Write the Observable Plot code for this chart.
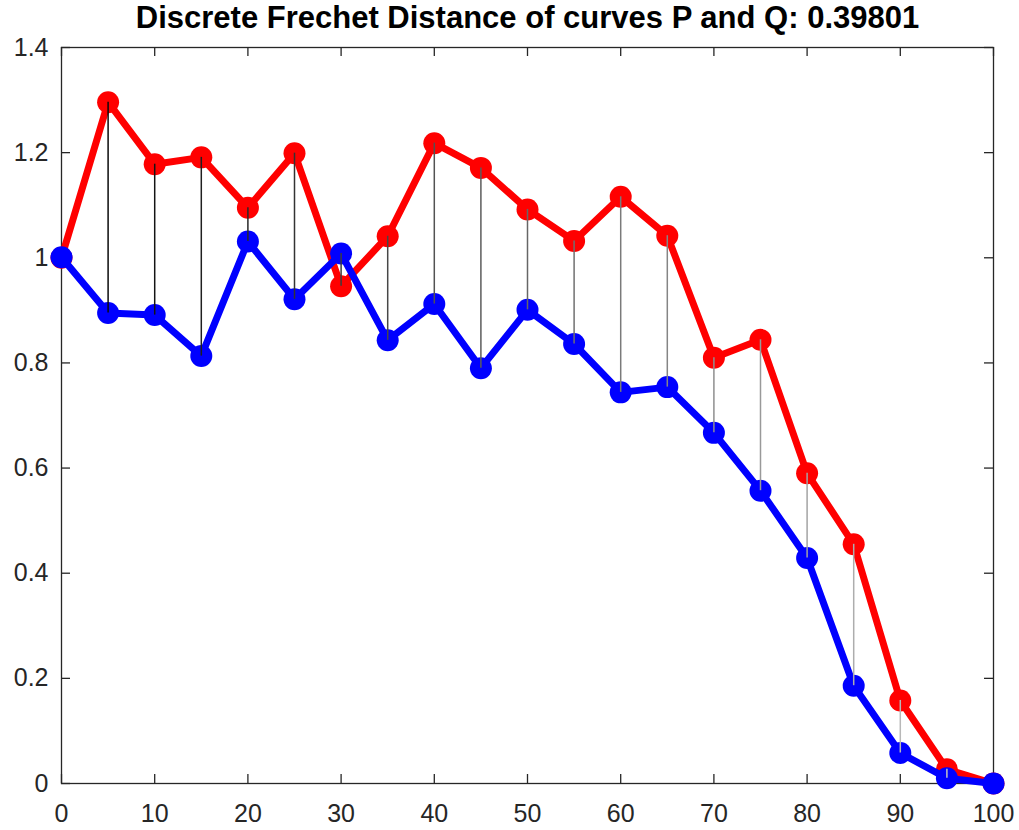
<!DOCTYPE html>
<html>
<head>
<meta charset="utf-8">
<script src="https://cdn.jsdelivr.net/npm/d3@7"></script>
<script src="https://cdn.jsdelivr.net/npm/@observablehq/plot@0.6"></script>
<style>
  html, body { margin: 0; padding: 0; background: #fff; }
  #chart svg { display: block; }
</style>
</head>
<body>
<div id="chart"></div>
<script>
const titleText = "Discrete Frechet Distance of curves P and Q: 0.39801";
const xValues = [0, 5, 10, 15, 20, 25, 30, 35, 40, 45, 50, 55, 60, 65, 70, 75, 80, 85, 90, 95, 100];
const pValues = [1.0, 1.296, 1.178, 1.191, 1.095, 1.199, 0.946, 1.041, 1.218, 1.171, 1.092, 1.032, 1.116, 1.042, 0.810, 0.844, 0.590, 0.455, 0.158, 0.027, 0];
const qValues = [1.001, 0.895, 0.891, 0.813, 1.031, 0.921, 1.008, 0.843, 0.912, 0.790, 0.901, 0.836, 0.744, 0.754, 0.667, 0.557, 0.429, 0.186, 0.058, 0.010, 0];
const xTicks = [0, 10, 20, 30, 40, 50, 60, 70, 80, 90, 100];
const yTicks = [0, 0.2, 0.4, 0.6, 0.8, 1.0, 1.2, 1.4];
const yTickLabels = ["0", "0.2", "0.4", "0.6", "0.8", "1", "1.2", "1.4"];

const W = 1019, H = 830;
const mL = 61, mR = 26, mT = 47, mB = 47;
const fw = W - mL - mR, fh = H - mT - mB;
const tickLen = 9;
const axisColor = "#262626";
const font = "'Liberation Sans', Arial, Helvetica, sans-serif";

const P = xValues.map((x, i) => ({x, y: pValues[i]}));
const Q = xValues.map((x, i) => ({x, y: qValues[i]}));
const n = xValues.length;
const links = xValues.map((x, i) => ({x, y1: pValues[i], y2: qValues[i], i}))
  .filter(d => d.i > 0 && d.i < n - 1);
const linkColor = d => {
  const g = Math.round(255 * Math.min(0.8, 0.04 * d.i));
  return `rgb(${g},${g},${g})`;
};

const chart = Plot.plot({
  width: W,
  height: H,
  marginLeft: mL,
  marginRight: mR,
  marginTop: mT,
  marginBottom: mB,
  style: {fontFamily: font, background: "#fff", overflow: "visible"},
  x: {domain: [0, 100], axis: null},
  y: {domain: [0, 1.4], axis: null},
  marks: [
    Plot.frame({stroke: axisColor, strokeWidth: 1.3}),
    // inward ticks on all four sides
    Plot.tickX(xTicks, {x: d => d, insetTop: fh - tickLen, stroke: axisColor, strokeWidth: 1.3}),
    Plot.tickX(xTicks, {x: d => d, insetBottom: fh - tickLen, stroke: axisColor, strokeWidth: 1.3}),
    Plot.tickY(yTicks, {y: d => d, insetRight: fw - tickLen, stroke: axisColor, strokeWidth: 1.3}),
    Plot.tickY(yTicks, {y: d => d, insetLeft: fw - tickLen, stroke: axisColor, strokeWidth: 1.3}),
    // tick labels
    Plot.axisX({ticks: xTicks, tickSize: 0, tickPadding: 21, fontSize: 25, fill: axisColor, label: null}),
    Plot.axisY({ticks: yTicks, tickSize: 0, tickPadding: 13, fontSize: 25, fill: axisColor, label: null,
      tickFormat: (d) => yTickLabels[yTicks.indexOf(d)]}),
    // curve P (red)
    Plot.line(P, {x: "x", y: "y", stroke: "#ff0000", strokeWidth: 7, strokeLinejoin: "round"}),
    Plot.dot(P, {x: "x", y: "y", r: 11, fill: "#ff0000", stroke: "none"}),
    // curve Q (blue)
    Plot.line(Q, {x: "x", y: "y", stroke: "#0000ff", strokeWidth: 7, strokeLinejoin: "round"}),
    Plot.dot(Q, {x: "x", y: "y", r: 11, fill: "#0000ff", stroke: "none"}),
    // coupling links
    Plot.ruleX(links, {x: "x", y1: "y1", y2: "y2", stroke: linkColor, strokeWidth: 1.5}),
    // title
    Plot.text([titleText], {text: d => d, frameAnchor: "top", dy: -29, fontSize: 31, fontWeight: "bold", fill: "#000", lineAnchor: "middle"})
  ]
});
document.getElementById("chart").appendChild(chart);
</script>
</body>
</html>
